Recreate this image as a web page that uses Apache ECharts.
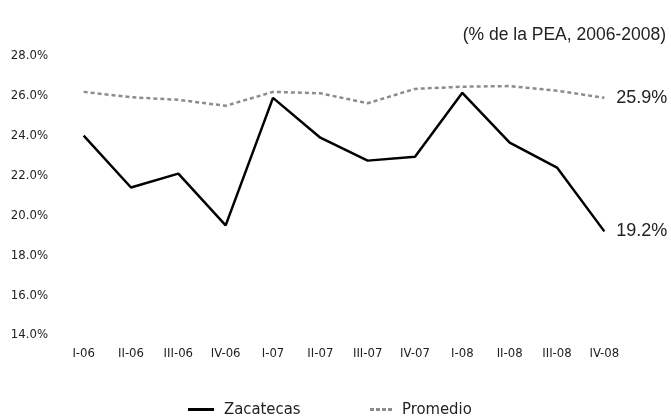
<!DOCTYPE html>
<html lang="es">
  <head>
    <meta charset="UTF-8" />
    <title>Zacatecas vs Promedio</title>
    <script src="https://cdn.jsdelivr.net/npm/echarts@6/dist/echarts.min.js"></script>
    <style>
      html, body { margin: 0; padding: 0; background: #fff; }
      #main { width: 671px; height: 417px; }
    </style>
  </head>
  <body>
    <div id="main"></div>
    <script>
      var trimestres = ["I-06", "II-06", "III-06", "IV-06", "I-07", "II-07", "III-07", "IV-07", "I-08", "II-08", "III-08", "IV-08"];
      var zacatecas = [24.0, 21.4, 22.1, 19.5, 25.9, 23.9, 22.75, 22.95, 26.15, 23.65, 22.4, 19.2];
      var promedio = [26.2, 25.93, 25.8, 25.5, 26.2, 26.13, 25.63, 26.35, 26.46, 26.49, 26.26, 25.9];
      var yTicks = { min: 14, max: 28, interval: 2 };

      var narrow = "'DejaVu Sans Condensed', 'Liberation Sans', sans-serif";
      var regular = "'Liberation Sans', Arial, sans-serif";

      var myChart = echarts.init(document.getElementById("main"));

      // iconos de leyenda: línea sólida y línea punteada
      var iconSolida = "path://M0,0h26v3h-26z";
      var iconPunteada = "path://M0,0h4v3h-4z M6,0h4v3h-4z M12,0h4v3h-4z M18,0h4v3h-4z";

      var textoLeyenda = { fontFamily: narrow, fontSize: 16.5, color: "#222", padding: [0, 0, 0, 5] };

      var option = {
        animation: false,
        title: {
          text: "(% de la PEA, 2006-2008)",
          right: 0,
          top: 21,
          textStyle: { fontFamily: regular, fontSize: 17.5, fontWeight: "normal", color: "#222" },
        },
        grid: { left: 60, right: 43, top: 56, bottom: 82 },
        legend: [
          {
            top: 396,
            left: 183,
            itemWidth: 26,
            itemHeight: 3,
            textStyle: textoLeyenda,
            data: [{ name: "Zacatecas", icon: iconSolida }],
          },
          {
            top: 396,
            left: 365,
            itemWidth: 22,
            itemHeight: 3,
            textStyle: textoLeyenda,
            data: [{ name: "Promedio", icon: iconPunteada }],
          },
        ],
        xAxis: {
          type: "category",
          data: trimestres,
          axisLine: { show: false },
          axisTick: { show: false },
          axisLabel: { fontFamily: narrow, fontSize: 13, color: "#222", margin: 12 },
        },
        yAxis: {
          type: "value",
          min: yTicks.min,
          max: yTicks.max,
          interval: yTicks.interval,
          splitLine: { show: false },
          axisLine: { show: false },
          axisTick: { show: false },
          axisLabel: {
            fontFamily: narrow,
            fontSize: 13,
            color: "#222",
            margin: 12,
            formatter: function (v) { return v.toFixed(1) + "%"; },
          },
        },
        series: [
          {
            name: "Zacatecas",
            type: "line",
            data: zacatecas,
            symbol: "none",
            lineStyle: { color: "#000", width: 2.5 },
            itemStyle: { color: "#000" },
            endLabel: {
              show: true,
              distance: 12,
              fontFamily: regular,
              fontSize: 18,
              color: "#222",
              formatter: function (p) { return p.value.toFixed(1) + "%"; },
            },
          },
          {
            name: "Promedio",
            type: "line",
            data: promedio,
            symbol: "none",
            lineStyle: { color: "#8c8c8c", width: 2.5, type: [4, 3] },
            itemStyle: { color: "#8c8c8c" },
            endLabel: {
              show: true,
              distance: 12,
              fontFamily: regular,
              fontSize: 18,
              color: "#222",
              formatter: function (p) { return p.value.toFixed(1) + "%"; },
            },
          },
        ],
      };

      myChart.setOption(option);
    </script>
  </body>
</html>
